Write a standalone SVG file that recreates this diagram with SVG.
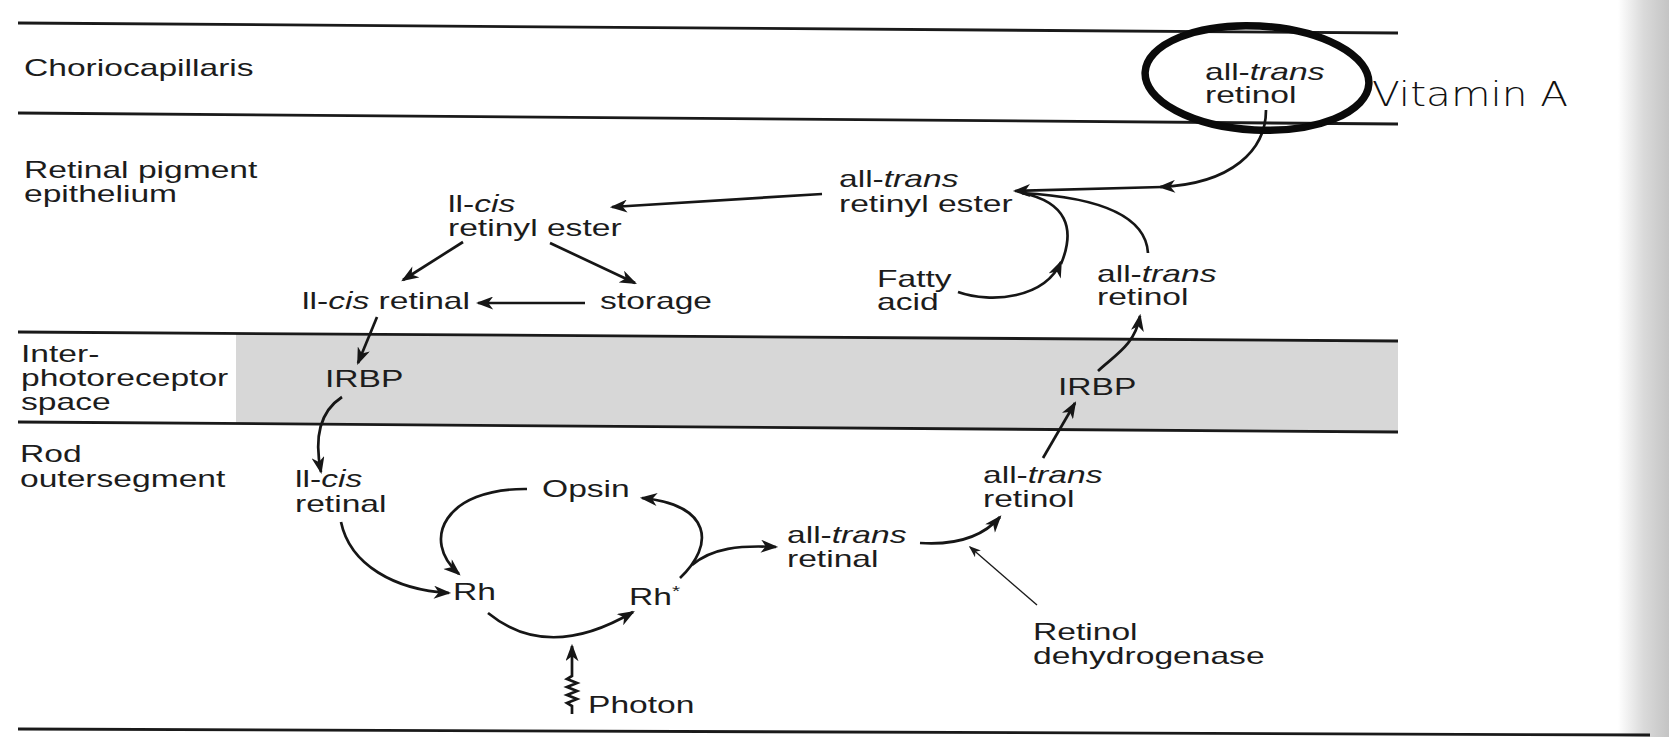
<svg xmlns="http://www.w3.org/2000/svg" width="1669" height="737" viewBox="0 0 1669 737">
<style>
.t{font-family:"Liberation Sans",Arial,sans-serif;font-size:24px;fill:#1c1c1c}
.i{font-style:italic}
.ln{stroke:#1a1a1a;stroke-width:2.8;fill:none}
.c{stroke:#161616;stroke-width:2.7;fill:none}
.a{marker-end:url(#ah)}
.thin{stroke:#1b1b1b;stroke-width:1.4;fill:none;marker-end:url(#ahs)}
.va{font-family:"DejaVu Sans","Liberation Sans",sans-serif;font-weight:200;font-size:33px;fill:#111}
</style>
<defs>
<marker id="ah" viewBox="0 0 16 12" refX="14" refY="6" markerWidth="18" markerHeight="13" markerUnits="userSpaceOnUse" orient="auto"><path d="M0,0 L16,6 L0,12 L4.5,6 Z" fill="#161616"/></marker>
<marker id="ahs" viewBox="0 0 16 12" refX="14" refY="6" markerWidth="12" markerHeight="9" markerUnits="userSpaceOnUse" orient="auto"><path d="M0,0 L16,6 L0,12 L4.5,6 Z" fill="#1b1b1b"/></marker>
<linearGradient id="edge" x1="0" y1="0" x2="1" y2="0"><stop offset="0" stop-color="#ffffff"/><stop offset="0.5" stop-color="#dadada"/><stop offset="1" stop-color="#c4c4c4"/></linearGradient>
</defs>
<rect width="1669" height="737" fill="#ffffff"/>
<rect x="1618" y="0" width="51" height="737" fill="url(#edge)"/>
<g id="layers">
<polygon points="236,334 1398,341 1398,432 236,424" fill="#d7d7d7"/>
<line class="ln" x1="18" y1="23" x2="1398" y2="33"/>
<line class="ln" x1="18" y1="113" x2="1398" y2="124"/>
<line class="ln" x1="18" y1="332" x2="1398" y2="341"/>
<line class="ln" x1="18" y1="422" x2="1398" y2="432"/>
<line class="ln" x1="18" y1="729" x2="1650" y2="735" stroke-width="3.2"/>
<text class="t" transform="matrix(1.4 0 0 1 24 76)">Choriocapillaris</text>
<text class="t" transform="matrix(1.4 0 0 1 24 178)"><tspan x="0" y="0">Retinal pigment</tspan><tspan x="0" y="24">epithelium</tspan></text>
<text class="t" transform="matrix(1.4 0 0 1 21 362)"><tspan x="0" y="0">Inter-</tspan><tspan x="0" y="24">photoreceptor</tspan><tspan x="0" y="48">space</tspan></text>
<text class="t" transform="matrix(1.4 0 0 1 20 462)"><tspan x="0" y="0">Rod</tspan><tspan x="0" y="25">outersegment</tspan></text>
</g>
<g id="connectors">
<path class="c a" d="M1266,110 C1266,150 1232,184 1160,187"/>
<path class="c a" d="M1162,187 L1015,191"/>
<path class="c a" d="M958,292 C992,304 1045,298 1061,262"/>
<path class="c" d="M1061,264 C1076,228 1066,202 1022,193"/>
<path class="c" d="M1148,253 C1146,220 1110,198 1022,193"/>
<path class="c a" d="M822,194 L612,207"/>
<path class="c a" d="M463,242 L403,280"/>
<path class="c a" d="M550,243 L635,283"/>
<path class="c a" d="M585,303 L478,303"/>
<path class="c a" d="M377,317 L358,363"/>
<path class="c a" d="M342,397 Q310,418 321,472"/>
<path class="c a" d="M341,522 C350,565 395,590 449,593"/>
<path class="c a" d="M527,489 C445,488 420,540 459,574"/>
<path class="c a" d="M488,613 Q548,662 633,612"/>
<path class="c a" d="M680,578 C715,545 712,505 642,498"/>
<path class="c a" d="M692,565 C712,548 740,545 776,547"/>
<path class="c a" d="M572,714 L572,706 L567,703 L577,699 L567,695 L577,691 L567,687 L577,683 L567,679 L572,676 L572,646" stroke-width="1.8"/>
<path class="c a" d="M920,543 C950,545 980,540 1000,517"/>
<path class="thin" d="M1037,605 L970,547"/>
<path class="c a" d="M1043,458 L1075,403"/>
<path class="c a" d="M1098,371 C1115,355 1135,345 1140,316"/>
</g>
<g id="n-vitA-retinol">
<ellipse cx="1257" cy="78" rx="112" ry="52" transform="rotate(3 1257 78)" fill="none" stroke="#0a0a0a" stroke-width="7.5"/>
<text class="t" transform="matrix(1.4 0 0 1 1205 80)"><tspan x="0" y="0">all-</tspan><tspan class="i">trans</tspan><tspan x="0" y="23">retinol</tspan></text>
</g>
<g id="n-vitamin-a"><text class="va" transform="matrix(1.23 0 0 1 1372 106)">Vitamin A</text></g>
<g id="n-at-ester"><text class="t" transform="matrix(1.4 0 0 1 839 187)"><tspan x="0" y="0">all-</tspan><tspan class="i">trans</tspan><tspan x="0" y="25">retinyl ester</tspan></text></g>
<g id="n-cis-ester"><text class="t" transform="matrix(1.4 0 0 1 448 212)"><tspan x="0" y="0">ll-</tspan><tspan class="i">cis</tspan><tspan x="0" y="24">retinyl ester</tspan></text></g>
<g id="n-cis-retinal-rpe"><text class="t" transform="matrix(1.4 0 0 1 302 309)">ll-<tspan class="i">cis</tspan> retinal</text></g>
<g id="n-storage"><text class="t" transform="matrix(1.4 0 0 1 600 309)">storage</text></g>
<g id="n-fatty"><text class="t" transform="matrix(1.4 0 0 1 877 287)"><tspan x="0" y="0">Fatty</tspan><tspan x="0" y="23">acid</tspan></text></g>
<g id="n-at-retinol-rpe"><text class="t" transform="matrix(1.4 0 0 1 1097 282)"><tspan x="0" y="0">all-</tspan><tspan class="i">trans</tspan><tspan x="0" y="23">retinol</tspan></text></g>
<g id="n-irbp-left"><text class="t" transform="matrix(1.4 0 0 1 325 387)">IRBP</text></g>
<g id="n-irbp-right"><text class="t" transform="matrix(1.4 0 0 1 1058 395)">IRBP</text></g>
<g id="n-cis-retinal-rod"><text class="t" transform="matrix(1.4 0 0 1 295 487)"><tspan x="0" y="0">ll-</tspan><tspan class="i">cis</tspan><tspan x="0" y="25">retinal</tspan></text></g>
<g id="n-opsin"><text class="t" transform="matrix(1.4 0 0 1 542 497)">Opsin</text></g>
<g id="n-rh"><text class="t" transform="matrix(1.4 0 0 1 453 600)">Rh</text></g>
<g id="n-rhstar"><text class="t" transform="matrix(1.4 0 0 1 629 605)">Rh<tspan font-size="15" dy="-9">*</tspan></text></g>
<g id="n-at-retinal"><text class="t" transform="matrix(1.4 0 0 1 787 543)"><tspan x="0" y="0">all-</tspan><tspan class="i">trans</tspan><tspan x="0" y="24">retinal</tspan></text></g>
<g id="n-at-retinol-rod"><text class="t" transform="matrix(1.4 0 0 1 983 483)"><tspan x="0" y="0">all-</tspan><tspan class="i">trans</tspan><tspan x="0" y="24">retinol</tspan></text></g>
<g id="n-rdh"><text class="t" transform="matrix(1.4 0 0 1 1033 640)"><tspan x="0" y="0">Retinol</tspan><tspan x="0" y="24">dehydrogenase</tspan></text></g>
<g id="n-photon"><text class="t" transform="matrix(1.4 0 0 1 588 713)">Photon</text></g>
</svg>
